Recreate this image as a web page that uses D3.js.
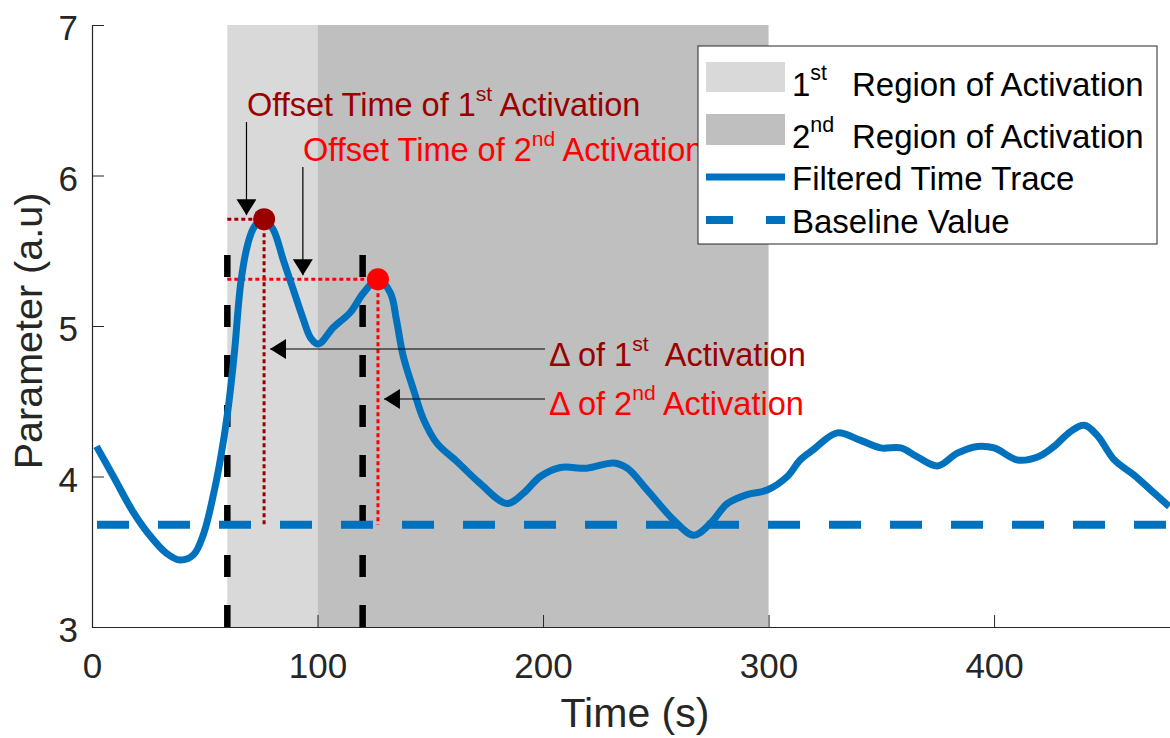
<!DOCTYPE html>
<html>
<head>
<meta charset="utf-8">
<script src="https://cdn.jsdelivr.net/npm/d3@7"></script>
<style>
  html, body { margin: 0; padding: 0; background: #fff; }
  svg { display: block; font-family: "Liberation Sans", Arial, Helvetica, sans-serif; }
  text { white-space: pre; }
</style>
</head>
<body>
<svg width="1170" height="738"></svg>
<script>
// ---- data ----
let times  = [2, 9.5, 18, 25, 33, 39, 45, 49.5, 54, 57, 60, 63, 66, 69, 72, 76.3, 80.4, 84.8, 89.3, 93.8,
              97, 100.4, 107, 114.5, 120.4, 126.8, 132.3, 135, 138, 142.7, 147, 153, 161.8, 172, 184, 191.4,
              198.8, 207.7, 219.5, 231.4, 237.3, 246.2, 258, 266.8, 274.3, 281.7, 290.5, 299.4, 308.3, 314,
              320, 330.4, 340.8, 349.7, 358.6, 366, 374.9, 383.7, 392.6, 400, 410.4, 419.3, 426.6, 434, 440,
              445.9, 453.3, 462, 469.5, 477.7];
let values = [4.20, 4.00, 3.77, 3.62, 3.49, 3.445, 3.48, 3.62, 3.89, 4.12, 4.41, 4.80, 5.29, 5.54, 5.66, 5.71, 5.64, 5.44, 5.24, 5.04,
              4.92, 4.88, 4.99, 5.09, 5.22, 5.31, 5.22, 5.04, 4.80, 4.57, 4.38, 4.22, 4.10, 3.955, 3.82, 3.89,
              4.00, 4.06, 4.055, 4.09, 4.055, 3.91, 3.71, 3.61, 3.69, 3.82, 3.88, 3.91, 4.00, 4.11,
              4.18, 4.29, 4.24, 4.19, 4.19, 4.13, 4.07, 4.155, 4.20, 4.19, 4.11, 4.13, 4.20, 4.30, 4.34,
              4.27, 4.11, 4.01, 3.91, 3.80];

let baselineValue = 3.68;
let regionStart   = [60, 100];
let regionEnd     = [100, 300];
let onsetTimes    = [60, 120];
let onsetTop      = 5.49;
let peakTimes     = [76.3, 126.8];
let peakValues    = [5.71, 5.31];

let xTicks = [0, 100, 200, 300, 400];
let yTicks = [3, 4, 5, 6, 7];

// ---- layout ----
let svg = d3.select("svg");
let x = d3.scaleLinear().domain([0, 478]).range([92, 1170]);
let y = d3.scaleLinear().domain([3, 7]).range([627, 25]);

const blue    = "#0072BD";
const darkRed = "#990000";
const red     = "#FF0000";
const axisCol = "#262626";

// arrow head
svg.append("defs").append("marker")
    .attr("id", "head")
    .attr("viewBox", "0 0 16 20")
    .attr("markerUnits", "userSpaceOnUse")
    .attr("markerWidth", 16)
    .attr("markerHeight", 20)
    .attr("refX", 16)
    .attr("refY", 10)
    .attr("orient", "auto")
  .append("path")
    .attr("d", "M0,0 L16,10 L0,20 Z")
    .attr("fill", "#000");

// shaded regions
let regionFill = ["#d9d9d9", "#bfbfbf"];
svg.selectAll("rect.region")
    .data(d3.range(regionStart.length))
    .enter().append("rect")
    .attr("class", "region")
    .attr("x", i => x(regionStart[i]))
    .attr("y", y(7))
    .attr("width", i => x(regionEnd[i]) - x(regionStart[i]))
    .attr("height", y(3) - y(7))
    .attr("fill", i => regionFill[i]);

// axes (ticks pointing inward, matlab style)
let xAxis = d3.axisBottom(x).tickValues(xTicks).tickFormat(d3.format("d"))
    .tickSizeInner(-12).tickSizeOuter(0).tickPadding(30);
let yAxis = d3.axisLeft(y).tickValues(yTicks).tickFormat(d3.format("d"))
    .tickSizeInner(-12).tickSizeOuter(0).tickPadding(14);

let gx = svg.append("g").attr("transform", `translate(0,${y(3)})`).call(xAxis);
let gy = svg.append("g").attr("transform", `translate(${x(0)},0)`).call(yAxis);

[gx, gy].forEach(g => {
    g.select(".domain").attr("stroke", axisCol).attr("stroke-width", 1.2);
    g.selectAll(".tick line").attr("stroke", axisCol).attr("stroke-width", 1);
    g.selectAll(".tick text")
        .attr("fill", axisCol)
        .attr("font-size", 35)
        .attr("font-family", "Liberation Sans, Arial, sans-serif");
});
gx.selectAll(".tick text").attr("dy", "0.6em");
gy.selectAll(".tick text").attr("dy", "0.42em");

// axis labels
svg.append("text")
    .attr("x", 635).attr("y", 727)
    .attr("text-anchor", "middle")
    .attr("font-size", 41)
    .attr("fill", axisCol)
    .text("Time (s)");

svg.append("text")
    .attr("transform", "translate(42,331) rotate(-90)")
    .attr("text-anchor", "middle")
    .attr("font-size", 39.5)
    .attr("fill", axisCol)
    .text("Parameter (a.u)");

// black dashed onset lines
svg.selectAll("line.onset")
    .data(onsetTimes)
    .enter().append("line")
    .attr("class", "onset")
    .attr("x1", d => x(d)).attr("x2", d => x(d))
    .attr("y1", y(3)).attr("y2", y(onsetTop))
    .attr("stroke", "#000")
    .attr("stroke-width", 6.5)
    .attr("stroke-dasharray", "22,28");

// dotted guide lines from the peaks
let peakCol = [darkRed, red];
peakTimes.forEach((t, i) => {
    svg.append("line")
        .attr("x1", x(onsetTimes[0])).attr("x2", x(t))
        .attr("y1", y(peakValues[i])).attr("y2", y(peakValues[i]))
        .attr("stroke", peakCol[i]).attr("stroke-width", 3)
        .attr("stroke-dasharray", "4,3");
    svg.append("line")
        .attr("x1", x(t)).attr("x2", x(t))
        .attr("y1", y(peakValues[i])).attr("y2", y(baselineValue))
        .attr("stroke", peakCol[i]).attr("stroke-width", 3)
        .attr("stroke-dasharray", "4,3");
});

// filtered time trace
let line = d3.line()
    .x((d, i) => x(times[i]))
    .y(d => y(d))
    .curve(d3.curveCatmullRom.alpha(0.5));

svg.append("path")
    .datum(values)
    .attr("d", line)
    .attr("fill", "none")
    .attr("stroke", blue)
    .attr("stroke-width", 7)
    .attr("stroke-linejoin", "round");

// baseline
svg.append("line")
    .attr("x1", x(0)).attr("x2", x(478))
    .attr("y1", y(baselineValue)).attr("y2", y(baselineValue))
    .attr("stroke", blue)
    .attr("stroke-width", 8)
    .attr("stroke-dasharray", "32,29")
    .attr("stroke-dashoffset", 56);

// peak markers
svg.selectAll("circle.peak")
    .data(peakTimes)
    .enter().append("circle")
    .attr("class", "peak")
    .attr("cx", d => x(d))
    .attr("cy", (d, i) => y(peakValues[i]))
    .attr("r", 11)
    .attr("fill", (d, i) => peakCol[i]);

// text with a superscript part
function supText(g, px, py, parts, color, size) {
    let t = g.append("text")
        .attr("x", px).attr("y", py)
        .attr("font-size", size)
        .attr("fill", color);
    parts.forEach(p => {
        let s = t.append("tspan").text(p.t);
        if (p.sup) s.attr("font-size", size * 0.65).attr("dy", -size * 0.47);
        if (p.back) s.attr("dy", size * 0.47);
        if (p.x) s.attr("x", p.x);
    });
    return t;
}

// arrows
function arrow(x1, y1, x2, y2) {
    svg.append("line")
        .attr("x1", x1).attr("y1", y1)
        .attr("x2", x2).attr("y2", y2)
        .attr("stroke", "#000")
        .attr("stroke-width", 1.2)
        .attr("marker-end", "url(#head)");
}

arrow(x(68.5), 122, x(68.5), y(peakValues[0]) - 4);
arrow(x(93.5), 167, x(93.5), y(peakValues[1]) - 4);
arrow(545, 349, x(peakTimes[0]) + 6, 349);
arrow(545, 399, x(peakTimes[1]) + 6, 399);

supText(svg, 247, 116, [{t: "Offset Time of 1"}, {t: "st", sup: true}, {t: " Activation", back: true}], darkRed, 32.5);
supText(svg, 303, 161, [{t: "Offset Time of 2"}, {t: "nd", sup: true}, {t: " Activation", back: true}], red, 32.5);
supText(svg, 549, 366, [{t: "\u0394 of 1"}, {t: "st", sup: true}, {t: "  Activation", back: true}], darkRed, 32.5);
supText(svg, 549, 415, [{t: "\u0394 of 2"}, {t: "nd", sup: true}, {t: " Activation", back: true}], red, 32.5);

// legend
let lg = svg.append("g");
lg.append("rect")
    .attr("x", 698).attr("y", 46)
    .attr("width", 459).attr("height", 198)
    .attr("fill", "#fff")
    .attr("stroke", axisCol)
    .attr("stroke-width", 1);

lg.append("rect").attr("x", 706).attr("y", 62).attr("width", 79).attr("height", 30).attr("fill", regionFill[0]);
lg.append("rect").attr("x", 706).attr("y", 114).attr("width", 79).attr("height", 31).attr("fill", regionFill[1]);
lg.append("line").attr("x1", 706).attr("x2", 785).attr("y1", 177).attr("y2", 177)
    .attr("stroke", blue).attr("stroke-width", 7);
lg.append("line").attr("x1", 706).attr("x2", 785).attr("y1", 220).attr("y2", 220)
    .attr("stroke", blue).attr("stroke-width", 8).attr("stroke-dasharray", "27,33");

supText(lg, 792, 96, [{t: "1"}, {t: "st", sup: true}, {t: "Region of Activation", back: true, x: 852}], "#000", 33);
supText(lg, 792, 148, [{t: "2"}, {t: "nd", sup: true}, {t: "Region of Activation", back: true, x: 852}], "#000", 33);
lg.append("text").attr("x", 792).attr("y", 190).attr("font-size", 33).attr("fill", "#000").text("Filtered Time Trace");
lg.append("text").attr("x", 792).attr("y", 233).attr("font-size", 33).attr("fill", "#000").text("Baseline Value");
</script>
</body>
</html>
